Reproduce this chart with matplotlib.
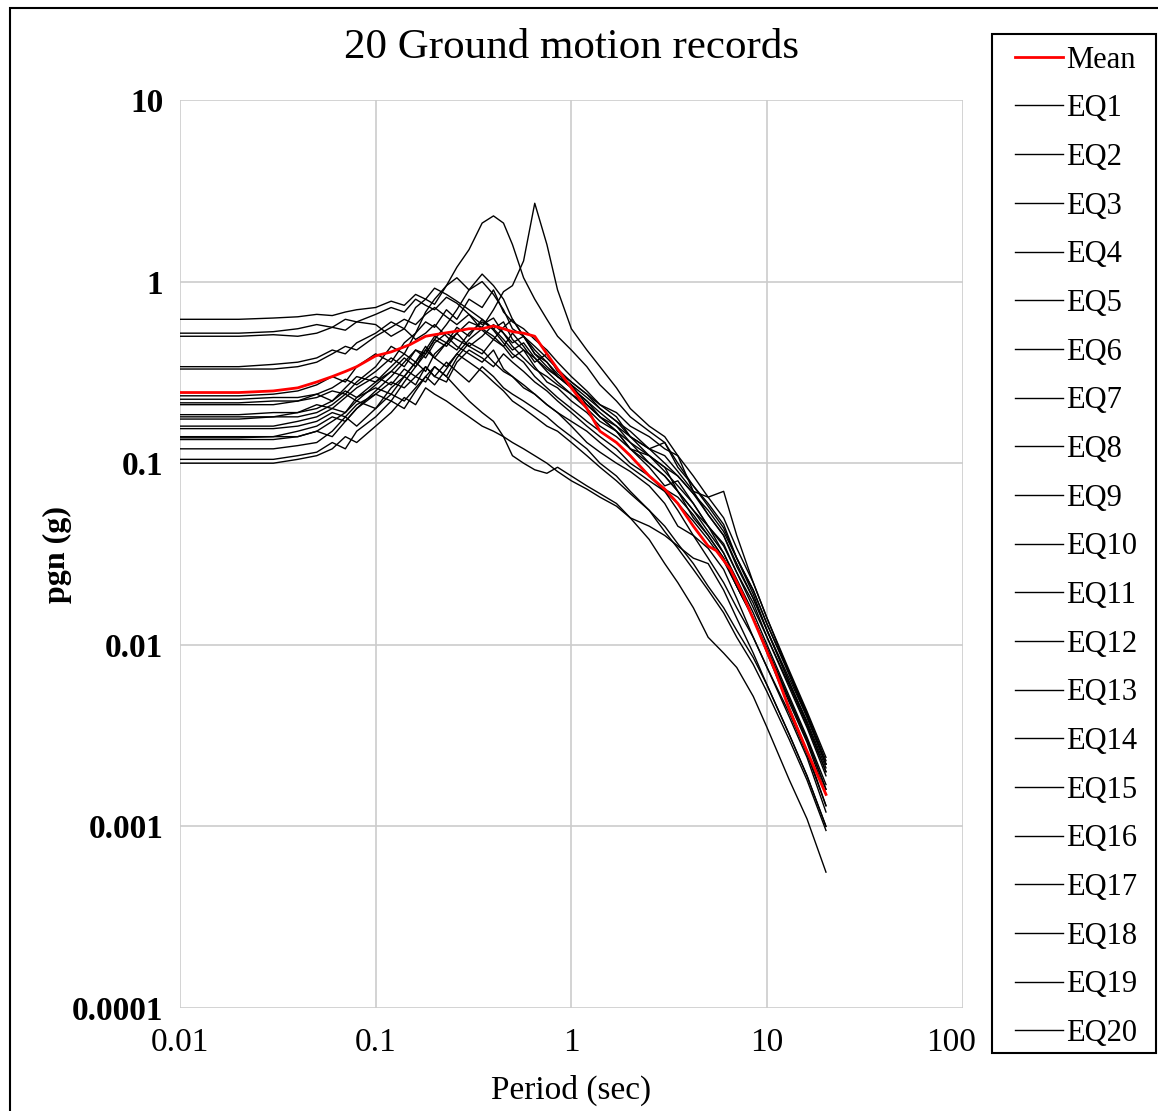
import matplotlib
matplotlib.use("Agg")
import matplotlib.pyplot as plt
from matplotlib.patches import Rectangle
from matplotlib.transforms import ScaledTranslation

plt.rcParams['font.family'] = ['Liberation Serif', 'DejaVu Serif']

# period grid (sec) shared by the 20 records
periods = [0.01, 0.02, 0.03, 0.04, 0.05, 0.06, 0.07, 0.08, 0.1, 0.12, 0.14,
           0.16, 0.18, 0.2, 0.23, 0.26, 0.3, 0.35, 0.4, 0.45, 0.5, 0.57,
           0.65, 0.75, 0.85, 1.0, 1.2, 1.4, 1.7, 2.0, 2.5, 3.0, 3.5, 4.2,
           5.0, 6.0, 7.0, 8.5, 10, 13, 16, 20]

eq1 = [0.62, 0.62, 0.63, 0.64, 0.66, 0.65, 0.68, 0.70, 0.72, 0.78, 0.74, 0.85, 0.80, 0.92, 0.85, 0.78, 0.70, 0.62, 0.55, 0.60, 0.48,
       0.42, 0.38, 0.33, 0.30, 0.26, 0.22, 0.19, 0.16, 0.13, 0.10, 0.085, 0.07, 0.055, 0.045, 0.032, 0.022, 0.014, 0.009, 0.0045, 0.0026, 0.0013]
eq2 = [0.52, 0.52, 0.53, 0.55, 0.58, 0.56, 0.62, 0.60, 0.66, 0.72, 0.68, 0.80, 0.74, 0.70, 0.82, 0.76, 0.66, 0.58, 0.63, 0.52, 0.46,
       0.50, 0.40, 0.34, 0.30, 0.27, 0.21, 0.18, 0.15, 0.12, 0.095, 0.075, 0.08, 0.06, 0.045, 0.035, 0.025, 0.016, 0.011, 0.0058, 0.0035, 0.0019]
eq3 = [0.50, 0.50, 0.51, 0.50, 0.52, 0.56, 0.54, 0.60, 0.58, 0.50, 0.55, 0.48, 0.52, 0.58, 0.50, 0.44, 0.40, 0.36, 0.42, 0.33, 0.30,
       0.26, 0.24, 0.21, 0.19, 0.16, 0.13, 0.115, 0.10, 0.09, 0.075, 0.06, 0.045, 0.04, 0.034, 0.026, 0.018, 0.011, 0.0075, 0.0042, 0.0025, 0.0013]
eq4 = [0.34, 0.34, 0.35, 0.36, 0.38, 0.42, 0.40, 0.46, 0.52, 0.60, 0.55, 0.72, 0.80, 0.75, 0.95, 1.20, 1.50, 2.10, 2.30, 2.10, 1.60,
       1.05, 0.80, 0.62, 0.50, 0.42, 0.34, 0.27, 0.22, 0.18, 0.15, 0.13, 0.10, 0.075, 0.06, 0.046, 0.03, 0.019, 0.012, 0.0062, 0.0038, 0.0021]
eq5 = [0.33, 0.33, 0.33, 0.34, 0.36, 0.40, 0.44, 0.42, 0.50, 0.56, 0.62, 0.58, 0.66, 0.72, 0.64, 0.58, 0.66, 0.54, 0.48, 0.44, 0.52,
       0.44, 0.36, 0.40, 0.32, 0.28, 0.24, 0.20, 0.17, 0.15, 0.12, 0.11, 0.09, 0.07, 0.052, 0.04, 0.028, 0.018, 0.012, 0.0065, 0.004, 0.0022]
eq6 = [0.235, 0.235, 0.24, 0.25, 0.27, 0.30, 0.28, 0.34, 0.40, 0.36, 0.46, 0.52, 0.60, 0.56, 0.70, 0.62, 0.80, 0.72, 0.90, 0.68, 0.60,
       0.55, 0.48, 0.42, 0.36, 0.30, 0.25, 0.21, 0.18, 0.14, 0.11, 0.095, 0.085, 0.068, 0.055, 0.042, 0.03, 0.02, 0.013, 0.007, 0.0042, 0.0023]
eq7 = [0.225, 0.225, 0.23, 0.23, 0.24, 0.26, 0.29, 0.27, 0.32, 0.38, 0.34, 0.42, 0.40, 0.48, 0.44, 0.52, 0.60, 0.56, 0.70, 0.88, 0.95,
       1.30, 2.70, 1.60, 0.90, 0.55, 0.42, 0.34, 0.26, 0.20, 0.16, 0.14, 0.11, 0.085, 0.065, 0.05, 0.034, 0.022, 0.014, 0.0072, 0.0043, 0.0024]
eq8 = [0.215, 0.215, 0.22, 0.22, 0.23, 0.25, 0.24, 0.28, 0.34, 0.44, 0.40, 0.52, 0.68, 0.80, 0.95, 1.05, 0.90, 1.00, 0.85, 0.70, 0.55,
       0.50, 0.40, 0.36, 0.30, 0.26, 0.22, 0.18, 0.15, 0.12, 0.10, 0.085, 0.07, 0.055, 0.042, 0.032, 0.023, 0.015, 0.010, 0.0052, 0.0031, 0.0017]
eq9 = [0.21, 0.21, 0.21, 0.22, 0.24, 0.22, 0.26, 0.30, 0.28, 0.34, 0.40, 0.36, 0.44, 0.38, 0.46, 0.52, 0.44, 0.40, 0.48, 0.56, 0.62,
       0.50, 0.44, 0.38, 0.33, 0.28, 0.24, 0.21, 0.19, 0.16, 0.14, 0.12, 0.11, 0.07, 0.065, 0.07, 0.04, 0.022, 0.014, 0.007, 0.0041, 0.0022]
eq10 = [0.185, 0.185, 0.19, 0.19, 0.20, 0.22, 0.25, 0.23, 0.28, 0.32, 0.30, 0.36, 0.42, 0.38, 0.34, 0.40, 0.48, 0.55, 0.50, 0.44, 0.38,
        0.42, 0.34, 0.28, 0.26, 0.22, 0.19, 0.16, 0.14, 0.12, 0.11, 0.095, 0.07, 0.05, 0.04, 0.03, 0.021, 0.014, 0.0095, 0.005, 0.003, 0.0016]
eq11 = [0.18, 0.18, 0.18, 0.19, 0.21, 0.20, 0.23, 0.26, 0.30, 0.27, 0.33, 0.30, 0.28, 0.34, 0.30, 0.26, 0.22, 0.19, 0.17, 0.14, 0.11,
        0.10, 0.092, 0.088, 0.095, 0.085, 0.075, 0.068, 0.06, 0.05, 0.038, 0.028, 0.022, 0.016, 0.011, 0.009, 0.0075, 0.0052, 0.0035, 0.0018, 0.0011, 0.00056]
eq12 = [0.175, 0.175, 0.18, 0.18, 0.19, 0.21, 0.24, 0.22, 0.27, 0.32, 0.38, 0.34, 0.42, 0.50, 0.46, 0.56, 0.50, 0.62, 0.54, 0.46, 0.40,
        0.36, 0.30, 0.26, 0.23, 0.20, 0.17, 0.15, 0.13, 0.11, 0.085, 0.07, 0.055, 0.04, 0.03, 0.022, 0.016, 0.011, 0.0075, 0.004, 0.0024, 0.0012]
eq13 = [0.16, 0.16, 0.16, 0.17, 0.18, 0.20, 0.19, 0.23, 0.26, 0.24, 0.30, 0.36, 0.32, 0.40, 0.46, 0.42, 0.52, 0.60, 0.55, 0.48, 0.42,
        0.46, 0.38, 0.32, 0.28, 0.24, 0.20, 0.17, 0.15, 0.13, 0.11, 0.09, 0.075, 0.06, 0.045, 0.036, 0.025, 0.017, 0.011, 0.006, 0.0036, 0.002]
eq14 = [0.155, 0.155, 0.155, 0.16, 0.17, 0.19, 0.18, 0.21, 0.24, 0.28, 0.26, 0.30, 0.34, 0.30, 0.36, 0.32, 0.28, 0.34, 0.30, 0.26, 0.24,
        0.22, 0.20, 0.18, 0.16, 0.14, 0.12, 0.10, 0.085, 0.07, 0.055, 0.042, 0.034, 0.026, 0.02, 0.015, 0.011, 0.0078, 0.0055, 0.003, 0.0018, 0.00095]
eq15 = [0.14, 0.14, 0.14, 0.15, 0.16, 0.18, 0.17, 0.20, 0.25, 0.30, 0.36, 0.42, 0.38, 0.46, 0.52, 0.48, 0.44, 0.50, 0.58, 0.52, 0.44,
        0.38, 0.33, 0.30, 0.27, 0.24, 0.21, 0.18, 0.16, 0.14, 0.12, 0.13, 0.095, 0.075, 0.058, 0.044, 0.03, 0.02, 0.013, 0.0068, 0.004, 0.0022]
eq16 = [0.138, 0.138, 0.14, 0.14, 0.15, 0.17, 0.19, 0.22, 0.20, 0.26, 0.30, 0.27, 0.34, 0.30, 0.28, 0.36, 0.42, 0.38, 0.34, 0.40, 0.36,
        0.32, 0.28, 0.25, 0.22, 0.19, 0.16, 0.14, 0.12, 0.10, 0.085, 0.072, 0.065, 0.052, 0.04, 0.03, 0.021, 0.014, 0.0092, 0.0048, 0.0029, 0.0015]
eq17 = [0.135, 0.135, 0.135, 0.14, 0.15, 0.14, 0.17, 0.20, 0.24, 0.22, 0.28, 0.34, 0.40, 0.48, 0.58, 0.70, 0.90, 1.10, 0.95, 0.80, 0.62,
        0.50, 0.42, 0.36, 0.31, 0.27, 0.23, 0.20, 0.17, 0.14, 0.12, 0.10, 0.085, 0.068, 0.052, 0.04, 0.027, 0.018, 0.012, 0.0062, 0.0037, 0.002]
eq18 = [0.12, 0.12, 0.12, 0.125, 0.13, 0.15, 0.18, 0.16, 0.20, 0.24, 0.22, 0.26, 0.30, 0.27, 0.33, 0.40, 0.36, 0.32, 0.28, 0.25, 0.22,
        0.20, 0.18, 0.16, 0.15, 0.13, 0.11, 0.095, 0.08, 0.068, 0.055, 0.045, 0.036, 0.028, 0.021, 0.016, 0.012, 0.0085, 0.006, 0.0032, 0.0019, 0.001]
eq19 = [0.105, 0.105, 0.105, 0.11, 0.115, 0.13, 0.12, 0.15, 0.18, 0.22, 0.20, 0.25, 0.30, 0.34, 0.30, 0.38, 0.46, 0.42, 0.36, 0.32, 0.30,
        0.27, 0.24, 0.21, 0.19, 0.17, 0.15, 0.13, 0.11, 0.095, 0.08, 0.07, 0.06, 0.048, 0.038, 0.029, 0.021, 0.014, 0.0095, 0.005, 0.003, 0.0016]
eq20 = [0.10, 0.10, 0.10, 0.105, 0.11, 0.12, 0.14, 0.13, 0.16, 0.19, 0.23, 0.21, 0.26, 0.24, 0.22, 0.20, 0.18, 0.16, 0.15, 0.14, 0.13,
        0.12, 0.11, 0.10, 0.09, 0.08, 0.072, 0.065, 0.058, 0.05, 0.045, 0.04, 0.035, 0.03, 0.028, 0.02, 0.014, 0.009, 0.006, 0.0032, 0.0019, 0.001]

records = [eq1, eq2, eq3, eq4, eq5, eq6, eq7, eq8, eq9, eq10,
           eq11, eq12, eq13, eq14, eq15, eq16, eq17, eq18, eq19, eq20]
labels = ["EQ%d" % (i + 1) for i in range(len(records))]

# mean spectrum (red)
mean_periods = [0.01, 0.02, 0.03, 0.04, 0.05, 0.06, 0.07, 0.08, 0.1, 0.12, 0.15, 0.18, 0.2, 0.25, 0.3, 0.35, 0.4, 0.45, 0.5,
                0.57, 0.65, 0.75, 0.85, 1.0, 1.2, 1.4, 1.7, 2.0, 2.5, 3.0, 3.5, 4.2, 5.0, 5.5, 6.5, 7.5, 9, 11, 13, 16, 20]
mean_values = [0.245, 0.245, 0.25, 0.26, 0.28, 0.30, 0.32, 0.34, 0.39, 0.41, 0.45, 0.50, 0.51, 0.53, 0.55, 0.55, 0.57, 0.55, 0.53,
               0.52, 0.50, 0.40, 0.33, 0.26, 0.20, 0.15, 0.13, 0.11, 0.085, 0.072, 0.06, 0.045, 0.035, 0.033, 0.026, 0.019, 0.012,
               0.0072, 0.0044, 0.0026, 0.0015]

fig = plt.figure(figsize=(11.58, 11.11), dpi=100)
ax = fig.add_axes([0.1554, 0.0927, 0.676, 0.8173])

handles = []
for vals, lab in zip(records, labels):
    h, = ax.plot(periods, vals, color='black', lw=1.0, label=lab)
    handles.append(h)
mean_line, = ax.plot(mean_periods, mean_values, color='red', lw=2.0, label='Mean', zorder=5)

ax.set_xscale('log')
ax.set_yscale('log')
ax.set_xlim(0.01, 100)
ax.set_ylim(0.0001, 10)
ax.set_xticks([0.01, 0.1, 1, 10, 100])
ax.set_xticklabels(['0.01', '0.1', '1', '10', '100'])
ax.set_yticks([0.0001, 0.001, 0.01, 0.1, 1, 10])
ax.set_yticklabels(['0.0001', '0.001', '0.01', '0.1', '1', '10'], fontweight='bold')
ax.minorticks_off()
ax.tick_params(axis='both', length=0, labelsize=24)
ax.tick_params(axis='x', pad=14)
ax.tick_params(axis='y', pad=12)
ax.grid(True, color='#cccccc', lw=1.2)
ax.set_axisbelow(True)
for s in ax.spines.values():
    s.set_visible(False)

# the "100" label sits a little left so it clears the legend box
last = ax.get_xticklabels()[-1]
last.set_transform(last.get_transform() + ScaledTranslation(-12 / 100, 0, fig.dpi_scale_trans))

ax.set_title('20 Ground motion records', fontsize=31, pad=30)
ax.set_xlabel('Period (sec)', fontsize=24, labelpad=12)
ax.set_ylabel('pgn (g)', fontsize=23, fontweight='bold', labelpad=0)

# legend entries without frame, box drawn separately
leg = fig.legend([mean_line] + handles, ['Mean'] + labels,
                 loc='upper left', bbox_to_anchor=(1015 / 1158, 1 - 45.5 / 1111),
                 fontsize=22, handlelength=1.57, handletextpad=0.1,
                 labelspacing=0.644, borderpad=0, borderaxespad=0,
                 frameon=False)
fig.patches.append(Rectangle((992 / 1158, 1 - 1053 / 1111), 164 / 1158, 1019 / 1111,
                             transform=fig.transFigure, fill=False,
                             ec='black', lw=1.5))

# outer border of the figure
fig.patches.append(Rectangle((10 / 1158, -0.05), 1.2, 1 - 8 / 1111 + 0.05,
                             transform=fig.transFigure, fill=False,
                             ec='black', lw=1.5))

fig.savefig('out.png', dpi=100)
